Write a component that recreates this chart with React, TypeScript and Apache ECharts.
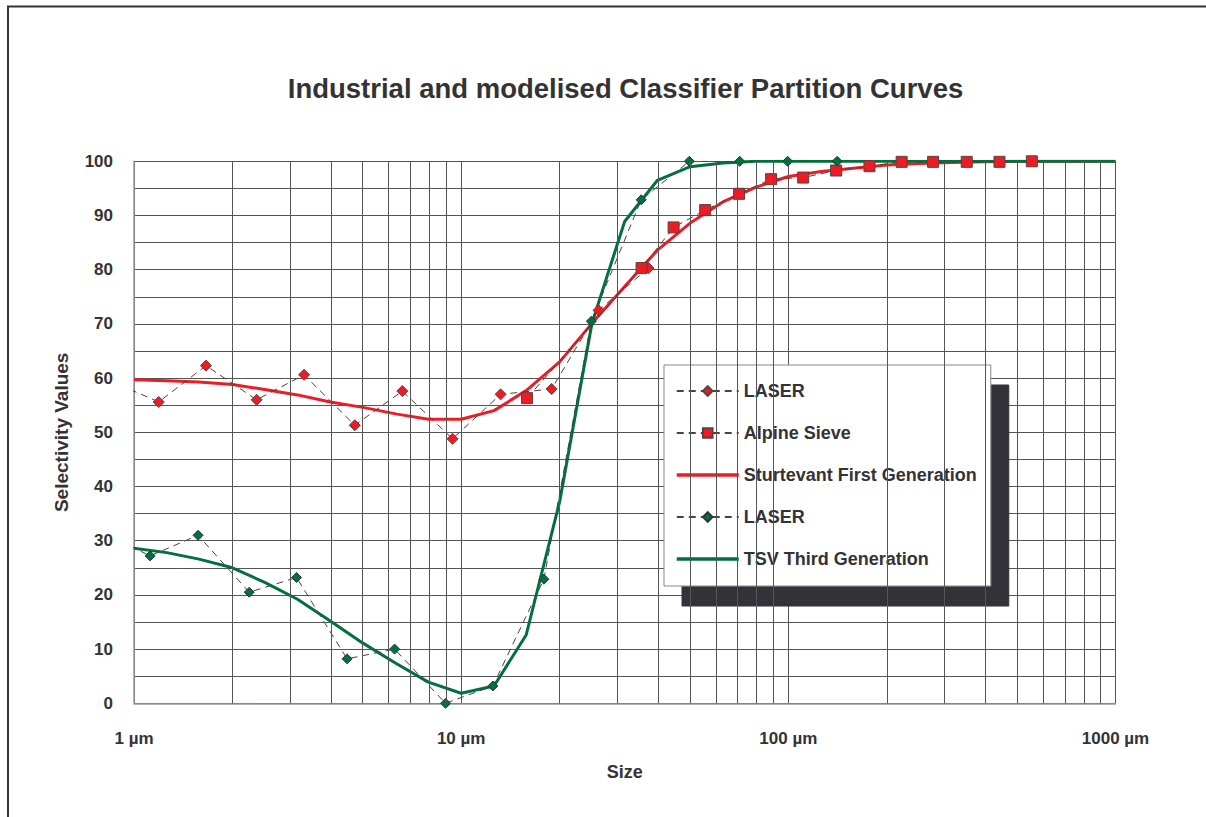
import React, { useEffect, useRef } from "react";
import * as echarts from "echarts";

// ---- data ----
const laserRedSize = [0.9, 1.19, 1.66, 2.37, 3.31, 4.73, 6.61, 9.41, 13.2, 18.9, 26.3, 37.4];
const laserRedSel = [58.8, 55.6, 62.3, 56.0, 60.6, 51.3, 57.6, 48.8, 57.0, 58.0, 72.5, 80.3];

const alpineSize = [15.9, 35.6, 44.6, 55.7, 70.7, 88.6, 111, 140, 177, 222, 277, 351, 442, 555];
const alpineSel = [56.3, 80.3, 87.8, 91.0, 94.0, 96.7, 97.0, 98.3, 99.1, 99.9, 99.9, 99.9, 99.9, 100];

const modelSize = [1, 1.26, 1.58, 2, 2.51, 3.16, 3.98, 5.01, 6.31, 7.94, 10, 12.6, 15.8, 20, 25.1, 31.6, 39.8, 50.1, 63.1, 79.4, 100, 126, 158, 200, 251, 316, 398, 501, 631, 794, 1000];
const sturtevantSel = [59.7, 59.5, 59.3, 58.8, 57.9, 56.9, 55.6, 54.6, 53.4, 52.4, 52.4, 54.0, 57.7, 63.0, 70.1, 76.9, 83.6, 88.6, 92.5, 95.2, 97.2, 98.1, 98.7, 99.3, 99.6, 99.8, 99.9, 100, 100, 100, 100];
const tsvSel = [28.6, 27.8, 26.6, 25.0, 22.3, 19.2, 15.2, 11.1, 7.4, 3.9, 1.85, 3.2, 12.6, 37.2, 70.1, 88.9, 96.5, 99.0, 99.7, 100, 100, 100, 100, 100, 100, 100, 100, 100, 100, 100, 100];

const laserGreenSize = [0.9, 1.12, 1.57, 2.25, 3.14, 4.48, 6.26, 8.96, 12.5, 17.9, 25.0, 35.5, 49.8, 71.0, 99.5, 141];
const laserGreenSel = [30.0, 27.2, 31.0, 20.5, 23.2, 8.2, 10.0, 0, 3.2, 22.9, 70.5, 92.9, 100, 100, 100, 100];

const minorGridSizes = [2, 3, 4, 5, 6, 7, 8, 9, 20, 30, 40, 50, 60, 70, 80, 90, 200, 300, 400, 500, 600, 700, 800, 900];

const seriesNames = ["LASER", "Alpine Sieve", "Sturtevant First Generation", "LASER ", "TSV Third Generation"];
const titleText = "Industrial and modelised Classifier Partition Curves";

const RED = "#ed1c24";
const GREEN = "#00703c";
const TEXT = "#333336";
const FONT = "'Liberation Sans', Arial, Helvetica, sans-serif";

const zip = (xs: number[], ys: number[]) => xs.map((x, i) => [x, ys[i]]);

export default function App() {
  const ref = useRef<HTMLDivElement>(null);
  useEffect(() => {
    if (!ref.current) return;
    const chart = echarts.init(ref.current, null, { renderer: "svg" });
    const dashed = { color: "#444", width: 1, type: [7, 5] as any };
    chart.setOption({
      animation: false,
      backgroundColor: "#fff",
      textStyle: { fontFamily: FONT },
      graphic: [
        { type: "line", shape: { x1: 8, y1: 6, x2: 8, y2: 817 }, style: { stroke: "#333", lineWidth: 2 } },
        { type: "line", shape: { x1: 7, y1: 6.5, x2: 1206, y2: 6.5 }, style: { stroke: "#333", lineWidth: 2 } },
        {
          type: "text",
          x: 625.5,
          y: 88,
          style: {
            text: titleText,
            fill: TEXT,
            font: `bold 27.5px ${FONT}`,
            align: "center",
            verticalAlign: "middle",
          },
        },
      ],
      grid: { left: 134, right: 90.5, top: 161.3, bottom: 113.7 },
      legend: {
        data: seriesNames.map((n, i) =>
          i === 2 || i === 4
            ? { name: n, itemStyle: { opacity: 0 }, lineStyle: { width: 3.5 } }
            : { name: n }
        ),
        orient: "vertical",
        left: 664,
        top: 365,
        padding: [17, 14, 18, 11],
        itemWidth: 62,
        itemHeight: 12,
        itemGap: 24,
        backgroundColor: "#fff",
        borderColor: "#888",
        borderWidth: 1,
        shadowColor: "#333338",
        shadowBlur: 0,
        shadowOffsetX: 18,
        shadowOffsetY: 20,
        textStyle: { fontSize: 18, fontWeight: "bold", color: TEXT, fontFamily: FONT },
        formatter: (n: string) => n.trim(),
      },
      xAxis: {
        type: "log",
        logBase: 10,
        min: 1,
        max: 1000,
        name: "Size",
        nameLocation: "middle",
        nameGap: 60,
        nameTextStyle: { fontSize: 18, fontWeight: "bold", color: TEXT, fontFamily: FONT },
        axisLine: { show: true, lineStyle: { color: "#999", width: 1.5 } },
        axisTick: { show: false },
        axisLabel: {
          margin: 27,
          fontSize: 17,
          fontWeight: "bold",
          color: TEXT,
          fontFamily: FONT,
          formatter: (v: number) => `${v} µm`,
        },
        splitLine: { show: true, lineStyle: { color: "#555", width: 1 } },
      },
      yAxis: {
        type: "value",
        min: 0,
        max: 100,
        interval: 5,
        name: "Selectivity Values",
        nameLocation: "middle",
        nameGap: 63,
        nameTextStyle: { fontSize: 19, fontWeight: "bold", color: TEXT, fontFamily: FONT },
        axisLine: { show: true, lineStyle: { color: "#999", width: 1.5 } },
        axisTick: { show: false },
        axisLabel: {
          margin: 21,
          fontSize: 17,
          fontWeight: "bold",
          color: TEXT,
          fontFamily: FONT,
          formatter: (v: number) => (v % 10 === 0 ? String(v) : ""),
        },
        splitLine: { show: true, lineStyle: { color: "#555", width: 1 } },
      },
      series: [
        {
          name: "__grid",
          type: "line",
          z: 0,
          data: [[1, 50]],
          symbol: "none",
          lineStyle: { opacity: 0 },
          silent: true,
          markLine: {
            silent: true,
            symbol: ["none", "none"],
            label: { show: false },
            lineStyle: { color: "#555", width: 1, type: "solid" },
            data: minorGridSizes.map((v) => ({ xAxis: v })),
          },
        },
        {
          name: seriesNames[0],
          type: "line",
          data: zip(laserRedSize, laserRedSel),
          symbol: "diamond",
          symbolSize: 11,
          itemStyle: { color: RED, borderColor: "#5a4040", borderWidth: 1 },
          lineStyle: dashed,
          z: 3,
        },
        {
          name: seriesNames[1],
          type: "line",
          data: zip(alpineSize, alpineSel),
          symbol: "rect",
          symbolSize: 11,
          itemStyle: { color: RED, borderColor: "#5a4040", borderWidth: 1 },
          lineStyle: dashed,
          z: 3,
        },
        {
          name: seriesNames[2],
          type: "line",
          data: zip(modelSize, sturtevantSel),
          symbol: "none",
          itemStyle: { color: RED },
          lineStyle: { color: RED, width: 3 },
          z: 2,
        },
        {
          name: seriesNames[3],
          type: "line",
          data: zip(laserGreenSize, laserGreenSel),
          symbol: "diamond",
          symbolSize: 10,
          itemStyle: { color: GREEN, borderColor: "#2a3a30", borderWidth: 1 },
          lineStyle: dashed,
          z: 3,
        },
        {
          name: seriesNames[4],
          type: "line",
          data: zip(modelSize, tsvSel),
          symbol: "none",
          itemStyle: { color: GREEN },
          lineStyle: { color: GREEN, width: 3 },
          z: 2,
        },
      ],
    });
    return () => chart.dispose();
  }, []);
  return (
    <div
      ref={ref}
      style={{ position: "fixed", left: 0, top: 0, width: 1206, height: 817 }}
    />
  );
}
